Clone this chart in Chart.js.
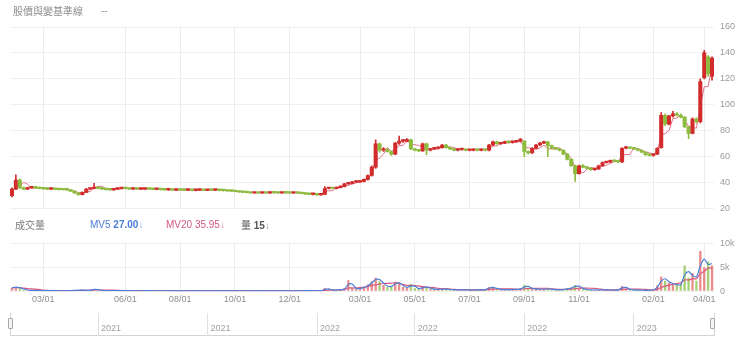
<!DOCTYPE html>
<html>
<head>
<meta charset="utf-8">
<script src="https://cdn.jsdelivr.net/npm/chart.js@4.4.0/dist/chart.umd.min.js"></script>
<style>
  html, body { margin: 0; padding: 0; background: #fff; }
  #wrap { position: relative; width: 740px; height: 349px; overflow: hidden;
          font-family: "Liberation Sans", Arial, "Noto Sans CJK TC", sans-serif; }
  canvas { position: absolute; left: 0; }
  .txt { position: absolute; white-space: nowrap; font-size: 10px; line-height: 12px; }
  .cjk { font-family: "Noto Sans CJK TC", "Liberation Sans", sans-serif; }
  #navBox { position: absolute; left: 10px; top: 313px; width: 703px; height: 22px;
            border-left: 1px solid #d4d4d4; border-right: 1px solid #d4d4d4; border-bottom: 1px solid #d4d4d4; }
  .handle { position: absolute; top: 318px; width: 3px; height: 9px; border: 1px solid #a8a8a8;
            border-radius: 1px; background: #f4f4f4; }
</style>
</head>
<body>
<div id="wrap">
  <canvas id="priceCanvas" width="740" height="220" style="top:0"></canvas>
  <canvas id="volCanvas" width="740" height="78" style="top:232px"></canvas>
  <div id="navBox"></div>
  <canvas id="navCanvas" width="740" height="34" style="top:306px"></canvas>
  <div class="handle" style="left:8px"></div>
  <div class="handle" style="left:710px"></div>

  <div class="txt cjk" style="left:13px;top:5px;color:#8c8c8c;">股價與變基準線</div>
  <div class="txt" style="left:101px;top:5px;color:#9a9a9a;">--</div>

  <div class="txt cjk" style="left:15px;top:219px;color:#7a7a7a;">成交量</div>
  <div class="txt" style="left:90px;top:219px;color:#4a7fd8;">MV5 <b>27.00</b><span style="opacity:.7">↓</span></div>
  <div class="txt" style="left:166px;top:219px;color:#d6587e;">MV20 35.95<span style="opacity:.7">↓</span></div>
  <div class="txt" style="left:241px;top:219px;color:#555;"><span class="cjk">量</span> <b>15</b><span style="opacity:.6">↓</span></div>
</div>

<script>
// Each candle covers roughly three trading sessions.
const months = ['2021-01','2021-02','2021-03','2021-04','2021-05','2021-06','2021-07','2021-08','2021-09','2021-10','2021-11','2021-12',
                '2022-01','2022-02','2022-03','2022-04','2022-05','2022-06','2022-07','2022-08','2022-09','2022-10','2022-11','2022-12',
                '2023-01','2023-02','2023-03','2023-04'];
const candlesPerMonth = [3,5,7,7,7,7,7,7,7,7,7,7, 6,5,7,7,7,7,7,7,7,7,7,7, 5,6,7,3];

// Months whose first candle carries an axis label
const tickMonths = ['2021-03','2021-06','2021-08','2021-10','2021-12','2022-03','2022-05','2022-07','2022-09','2022-11','2023-02','2023-04'];
// Months marked in the range navigator (labelled with their year)
const navMonths = ['2021-05','2021-09','2022-01','2022-05','2022-09','2023-01'];

const opens = [
  30,35,42,36,35,36,36.5,36,35.5,35.2,
  35,35.3,34.8,34.6,34.5,34.4,33.5,32,30.8,32.5,
  35,35.5,36.5,35.5,35,34.6,34.4,35,35.5,36,
  35.5,35,35.2,35,35,35.3,35,34.8,35.2,34.6,
  34.4,34.6,34.2,34.5,34.3,34.2,34.4,34,34.3,34.4,
  34.1,34.5,34.2,34.4,34,33.8,33.6,33.5,33.2,32.8,
  32.5,32.3,32,32.2,32,32.3,32,32.4,32.2,32,
  32.3,32.1,32,32.2,32,31.6,31.2,31,31,30.6,
  31,35.5,35.8,35.5,36.2,37,39,39.5,40.5,40.5,
  41,42.5,45.5,52,70,65,65.5,64,62,70.5,
  72,72,73,66,65,64.5,70,65,66,66.5,
  67,69,67,66,65,65.5,65.5,65,65,65.5,
  65,65.5,65,69,71.5,70,70.5,71.5,71,71.5,
  72,72,64,63,66.5,69,70.5,71.5,68.5,66.5,
  66,65,62,58,53,47,53,52,51,50,
  50.5,53,55.5,56,57,56.5,56,66.5,67,66.5,
  66,65,63.5,61.5,61,62,67,92,85,91.5,
  93,92,90.5,83,78,89,87,121,137,122
];
const highs = [
  36,46,43,36.5,36.5,37,37,36.5,35.8,35.5,
  35.7,35.5,35.2,35,34.8,34.6,33.8,32.4,33,35.6,
  36,39.5,36.8,35.8,35.3,35,35.4,35.9,36.4,36.3,
  35.8,35.5,35.5,35.3,35.6,35.6,35.3,35.5,35.5,34.9,
  35,34.9,34.8,34.8,34.6,34.7,34.6,34.6,34.7,34.6,
  34.8,34.8,34.7,34.6,34.3,34,33.9,33.8,33.5,33.1,
  32.8,32.6,32.5,32.5,32.6,32.6,32.7,32.7,32.5,32.6,
  32.6,32.4,32.5,32.5,32.2,31.9,31.5,31.4,31.3,31.2,
  37,36.3,36.2,36.6,37.5,39.5,40,41,41.2,41.5,
  43,46,53,73,70.5,67,66.5,64.5,71,76,
  73,74,73.5,66.5,65.5,70.5,70.5,66.5,67,67.5,
  69.5,69.5,67.5,66.5,66,66,66,65.5,66,66,
  66,66,69.5,72,72,71,72,72,72,72.5,
  74,72.5,64.5,67,69.5,71,72,72,69,67,
  66.5,65.5,62.5,58.5,53.5,53.5,54,52.5,51.5,51,
  53.5,56,56.5,57.5,57.5,57,67,68,67.5,67,
  66.5,65.5,63.5,62,62.5,67,94,93,92,95,
  94,93,91,83.5,90,90,120,142,138,137
];
const lows = [
  29,34.5,35.5,34.5,34.6,35.7,35.6,35.2,34.8,34.6,
  34.7,34.5,34.2,34.2,34,33.3,31.6,30.3,30.6,32.2,
  34.8,35.2,35.2,34.7,34.3,34,34.1,34.7,35.2,35.2,
  34.7,34.7,34.7,34.7,34.7,34.7,34.5,34.5,34.3,34,
  34.1,33.9,33.9,34,33.9,33.9,33.7,33.7,34,33.8,
  33.8,33.9,33.9,33.7,33.5,33.3,33.2,32.9,32.5,32.2,
  32,31.7,31.7,31.7,31.7,31.7,31.7,31.9,31.7,31.7,
  31.8,31.7,31.7,31.7,31.3,30.9,30.7,30.6,30.2,30.3,
  30.8,35.2,35.2,35.2,36,36.7,38.6,39.2,40,40.2,
  40.6,42,45,51,63.5,64,63.5,61,61.5,69.5,
  71,71.5,65.5,64.5,63.8,64,61.5,64.5,65.5,66,
  66.5,66.5,65.5,64.5,64.5,65,64.5,64.5,64.5,64.5,
  64.5,64.5,64.5,68.5,69.5,69.5,70,70.5,70.5,71,
  71.5,60,62,62.5,66,68.5,70,60,66,65.5,
  64.5,61.5,57.5,52.5,41,46.5,51.5,50.5,49.5,49.5,
  50,52.5,55,55.5,56,55.5,55.5,66,66,65.5,
  64.5,63,61,60.5,60.5,61.5,66.5,84,84.5,90.5,
  91.5,90,82.5,74,77.5,86,86,120,122,119
];
const closes = [
  35,42,36,35,36,36.5,36,35.5,35.2,35,
  35.3,34.8,34.6,34.5,34.4,33.5,32,30.8,32.5,35,
  35.5,36.5,35.5,35,34.6,34.4,35,35.5,36,35.5,
  35,35.2,35,35,35.3,35,34.8,35.2,34.6,34.4,
  34.6,34.2,34.5,34.3,34.2,34.4,34,34.3,34.4,34.1,
  34.5,34.2,34.4,34,33.8,33.6,33.5,33.2,32.8,32.5,
  32.3,32,32.2,32,32.3,32,32.4,32.2,32,32.3,
  32.1,32,32.2,32,31.6,31.2,31,31,30.6,30.8,
  35.5,35.8,35.5,36.2,37,39,39.5,40.5,40.5,41,
  42.5,45.5,52,70,65,65.5,64,62,70.5,72,
  72,73,66,65,64.5,70,65,66,66.5,67,
  69,67,66,65,65.5,65.5,65,65,65.5,65,
  65.5,65,69,71.5,70,70.5,71.5,71,71.5,72,
  73.5,64,63,66.5,69,70.5,71.5,68.5,66.5,66,
  65,62,58,53,47,53,52,51,50,50.5,
  53,55.5,56,57,56.5,56,66.5,67,66.5,66,
  65,63.5,61.5,61,62,66.5,92,85,91.5,93,
  92,90.5,83,78,89,87,118,140,124,136
];
const volumes = [
  700,900,600,300,200,150,120,130,110,100,
  120,90,100,80,110,150,220,260,200,180,
  250,480,200,150,120,100,130,110,140,120,
  90,100,80,90,110,90,80,100,90,80,
  90,70,80,90,70,80,60,70,80,60,
  70,80,60,70,90,80,70,90,100,80,
  70,90,60,80,70,60,80,70,60,70,
  80,60,70,60,90,110,100,90,120,100,
  650,300,220,280,350,550,2300,700,500,650,
  900,1400,2100,2800,2100,1300,900,1100,2000,1500,
  900,700,1500,600,500,900,800,500,400,350,
  500,400,300,280,260,300,250,240,260,300,
  250,420,900,700,450,350,300,380,320,450,
  500,1300,700,500,450,400,420,500,380,300,
  280,350,600,700,1300,800,400,300,250,260,
  280,300,260,250,230,320,1100,500,300,250,
  220,200,180,200,400,1200,3000,2200,1800,1400,
  1300,1500,5400,2800,3800,2200,8400,5000,6200,5400
];

// Category labels: one per candle, tagged with its month
const categories = [];
const monthOfCandle = [];
months.forEach((m, k) => {
  for (let j = 0; j < candlesPerMonth[k]; j++) {
    categories.push(m + ' #' + (j + 1));
    monthOfCandle.push(m);
  }
});
const firstCandleOf = m => monthOfCandle.indexOf(m);
const axisLabel = {};
tickMonths.forEach(m => { axisLabel[firstCandleOf(m)] = m.slice(5) + '/01'; });
const navLabel = {};
navMonths.forEach(m => { navLabel[firstCandleOf(m)] = m.slice(0, 4); });

// Averages and the base line are derived from the candles themselves
const SESSIONS_PER_CANDLE = 3;
const movingAverage = (arr, days) => {
  const n = Math.max(1, Math.round(days / SESSIONS_PER_CANDLE));
  return arr.map((_, i) => {
    const s = arr.slice(Math.max(0, i - n + 1), i + 1);
    return s.reduce((a, b) => a + b, 0) / s.length;
  });
};
const mv5 = movingAverage(volumes, 5);
const mv20 = movingAverage(volumes, 20);
const baseWindow = Math.round(9 / SESSIONS_PER_CANDLE);
const baseLine = highs.map((_, i) => {
  const from = Math.max(0, i - baseWindow + 1);
  return (Math.max(...highs.slice(from, i + 1)) + Math.min(...lows.slice(from, i + 1))) / 2;
});

const wicks = lows.map((l, i) => [l, highs[i]]);
const bodies = opens.map((o, i) => [o, closes[i]]);

const UP = '#d12b2b', DOWN = '#8cbb3e';
const UP_VOL = 'rgba(232,120,120,0.85)', DOWN_VOL = 'rgba(150,200,90,0.85)';
const isUp = i => closes[i] >= opens[i];
const candleColor = ctx => isUp(ctx.dataIndex) ? UP : DOWN;
const volColor = ctx => isUp(ctx.dataIndex) ? UP_VOL : DOWN_VOL;
const vGrid = ctx => (axisLabel[ctx.index] !== undefined) ? '#ececec' : 'rgba(0,0,0,0)';

Chart.defaults.font.family = '"Liberation Sans", Arial, sans-serif';
Chart.defaults.font.size = 9;
Chart.defaults.color = '#9a9a9a';

const rightAxisWidth = s => { s.width = 26; };

new Chart(document.getElementById('priceCanvas'), {
  type: 'bar',
  data: {
    labels: categories,
    datasets: [
      { type: 'line', label: '基準線', data: baseLine, borderColor: '#e5708c', borderWidth: 1,
        pointRadius: 0, tension: 0, order: 3 },
      { label: 'wick', data: wicks, backgroundColor: candleColor, barThickness: 1, grouped: false, order: 2 },
      { label: 'body', data: bodies, backgroundColor: candleColor, barThickness: 3.4, grouped: false,
        minBarLength: 1.5, order: 1 }
    ]
  },
  options: {
    responsive: false, animation: false,
    layout: { padding: { left: 10, right: 0, top: 27, bottom: 8 } },
    plugins: { legend: { display: false }, tooltip: { enabled: false } },
    scales: {
      x: { grid: { offset: false, color: vGrid, drawTicks: false }, ticks: { display: false },
           border: { display: false } },
      y: { position: 'right', min: 20, max: 160,
           ticks: { stepSize: 20, padding: 6, color: '#9a9a9a' },
           grid: { color: '#f0f0f0', drawTicks: false }, border: { display: false },
           afterFit: rightAxisWidth }
    }
  }
});

new Chart(document.getElementById('volCanvas'), {
  type: 'bar',
  data: {
    labels: categories,
    datasets: [
      { type: 'line', label: 'MV5', data: mv5, borderColor: '#4a80d9', borderWidth: 1.2,
        pointRadius: 0, tension: 0.3, order: 1 },
      { type: 'line', label: 'MV20', data: mv20, borderColor: '#d9577d', borderWidth: 1.2,
        pointRadius: 0, tension: 0.3, order: 2 },
      { label: '量', data: volumes, backgroundColor: volColor, barPercentage: 0.6,
        categoryPercentage: 1, order: 3 }
    ]
  },
  options: {
    responsive: false, animation: false,
    layout: { padding: { left: 10, right: 0, top: 9, bottom: 2 } },
    plugins: { legend: { display: false }, tooltip: { enabled: false } },
    scales: {
      x: { grid: { offset: false, color: vGrid, drawTicks: false },
           ticks: { autoSkip: false, maxRotation: 0, minRotation: 0, padding: 3, color: '#8f8f8f',
                    callback: (v, i) => axisLabel[i] || '' },
           border: { display: false } },
      y: { position: 'right', min: 0, max: 10000,
           ticks: { stepSize: 5000, padding: 6, color: '#9a9a9a',
                    callback: v => v === 0 ? '0' : (v / 1000) + 'k' },
           grid: { color: '#f0f0f0', drawTicks: false }, border: { display: false },
           afterFit: rightAxisWidth }
    }
  }
});

// Year captions sit inside the navigator, just right of each separator
const navYearLabels = {
  id: 'navYearLabels',
  afterDraw(chart) {
    const { ctx, chartArea } = chart;
    const x = chart.scales.x;
    ctx.save();
    ctx.font = '9px "Liberation Sans", Arial, sans-serif';
    ctx.fillStyle = '#a0a0a0';
    ctx.textAlign = 'left';
    ctx.textBaseline = 'middle';
    Object.keys(navLabel).forEach(i => {
      ctx.fillText(navLabel[i], x.getPixelForValue(Number(i)) + 3, chartArea.bottom - 7);
    });
    ctx.restore();
  }
};

new Chart(document.getElementById('navCanvas'), {
  type: 'bar',
  data: { labels: categories, datasets: [{ label: 'range', data: [] }] },
  plugins: [navYearLabels],
  options: {
    responsive: false, animation: false,
    layout: { padding: { left: 10, right: 26, top: 7, bottom: 4 } },
    plugins: { legend: { display: false }, tooltip: { enabled: false } },
    scales: {
      x: { grid: { offset: false, drawTicks: false,
                   color: ctx => (navLabel[ctx.index] !== undefined) ? '#e0e0e0' : 'rgba(0,0,0,0)' },
           ticks: { display: false },
           border: { display: false } },
      y: { display: false }
    }
  }
});
</script>
</body>
</html>
